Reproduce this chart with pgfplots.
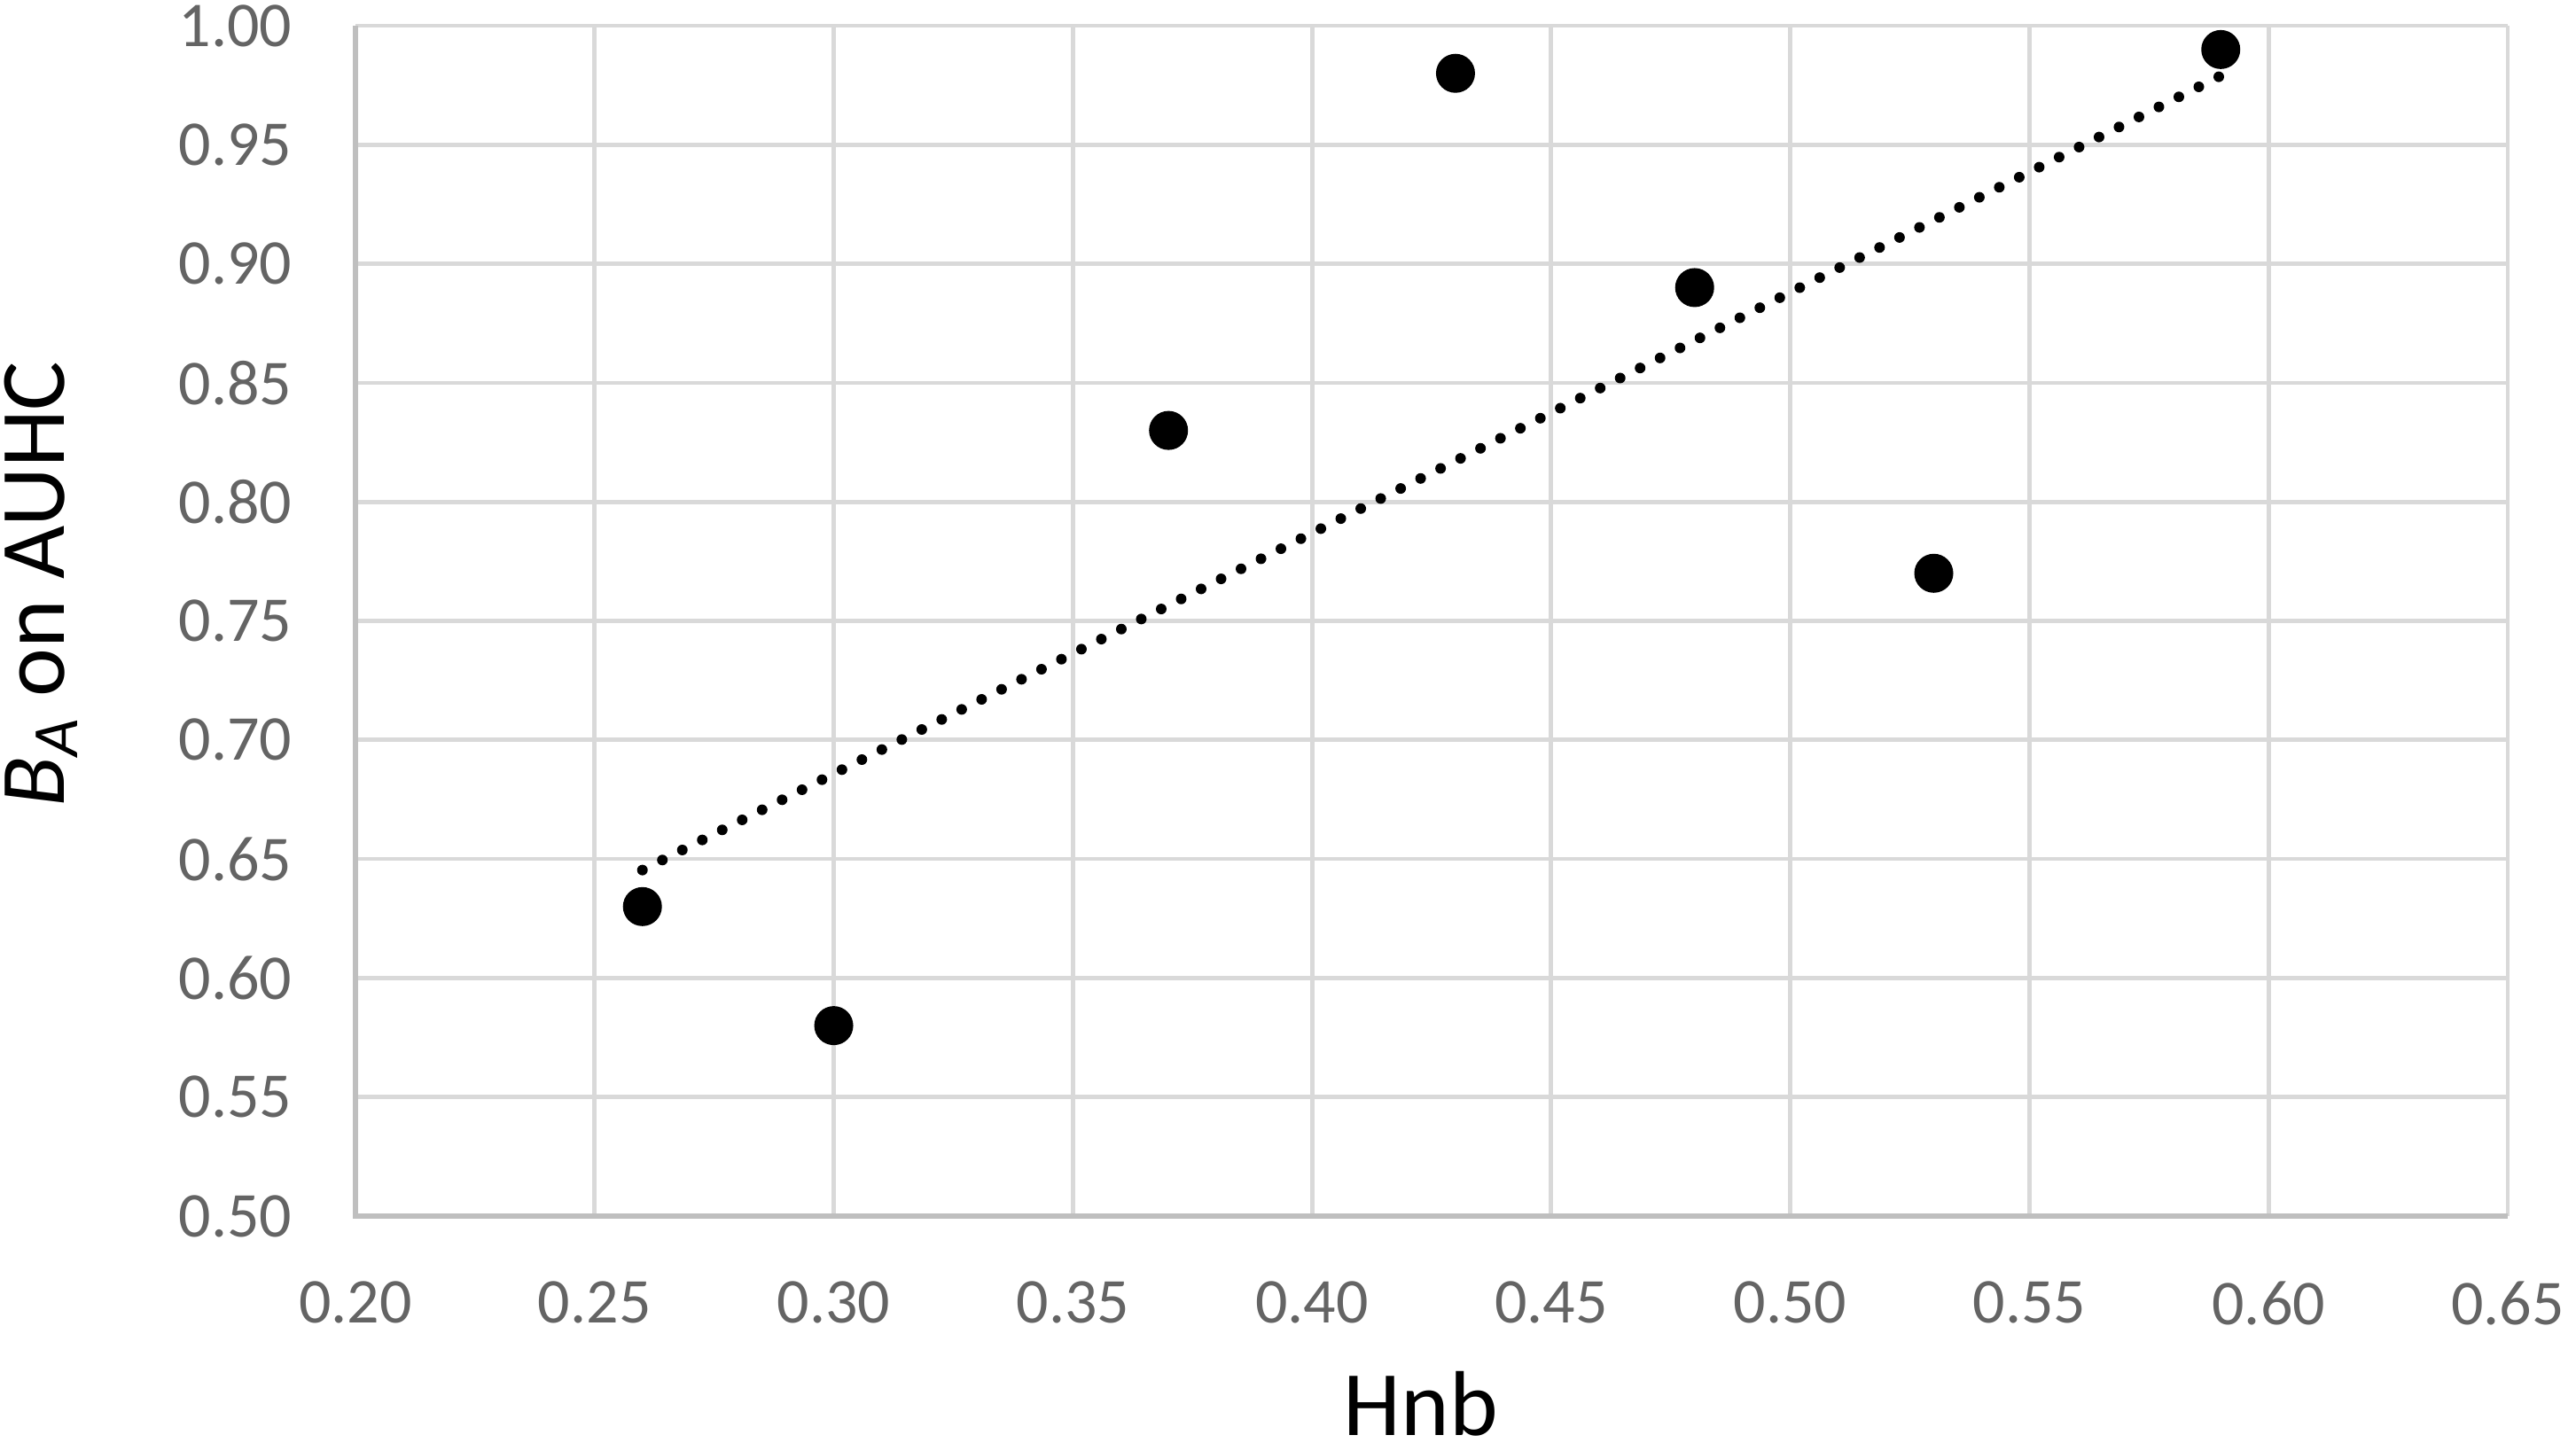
\documentclass[border=0pt]{standalone}
\usepackage{fontspec}
\setmainfont{Carlito}
\usepackage{pgfplots}
\usepackage{pgfplotstable}
\pgfplotsset{compat=1.18}
\definecolor{gridc}{RGB}{217,217,217}
\definecolor{axc}{RGB}{191,191,191}
\definecolor{tickc}{RGB}{100,100,100}
\pgfplotstableread{
x y
0.26 0.63
0.30 0.58
0.37 0.83
0.43 0.98
0.48 0.89
0.53 0.77
0.59 0.99
}\data
\begin{document}
\begin{tikzpicture}
\useasboundingbox (-100.25pt,-64pt) rectangle (626.25pt,343pt);
\begin{axis}[
  at={(0,0)}, anchor=south west,
  scale only axis, width=607pt, height=335.75pt,
  xmin=0.2, xmax=0.65, ymin=0.5, ymax=1.0,
  xtick={0.20,0.25,0.30,0.35,0.40,0.45,0.50,0.55,0.60,0.65},
  ytick={0.50,0.55,0.60,0.65,0.70,0.75,0.80,0.85,0.90,0.95,1.00},
  major tick length=0pt,
  grid=major,
  major grid style={draw=gridc, line width=1.2pt},
  axis line style={draw=none},
  clip=false,
  /pgf/number format/assume math mode=true,
  /pgf/number format/.cd, fixed, fixed zerofill, precision=2, /pgfplots/.cd,
  ticklabel style={font=\fontsize{18}{21}\selectfont, text=tickc, inner sep=0pt},
  yticklabel style={anchor=east, xshift=-17.75pt},
  xticklabel style={anchor=north, yshift=-18.25pt},
  xlabel={Hnb},
  xlabel style={at={([yshift=-43.5pt]axis description cs:0.495,0)}, anchor=north, inner sep=0pt, font=\fontsize{26}{30}\selectfont},
  ylabel={\textit{B}\textsubscript{\textit{A}} on AUHC},
  ylabel style={at={([xshift=-82pt]axis description cs:0,0.5309)}, anchor=base, inner sep=0pt, font=\fontsize{26}{30}\selectfont},
]
\draw[axc, line width=1.3pt] (rel axis cs:0,1) -- (rel axis cs:0,0) -- (rel axis cs:1,0);
\addplot[no marks, black, line width=3pt, line cap=round, dash pattern=on 0pt off 6.3pt]
  table[x=x, y={create col/linear regression={y=y}}] {\data};
\addplot[only marks, mark=*, mark size=5.3pt, mark options={fill=black, draw=black}]
  table[x=x, y=y] {\data};
\end{axis}
\end{tikzpicture}
\end{document}
